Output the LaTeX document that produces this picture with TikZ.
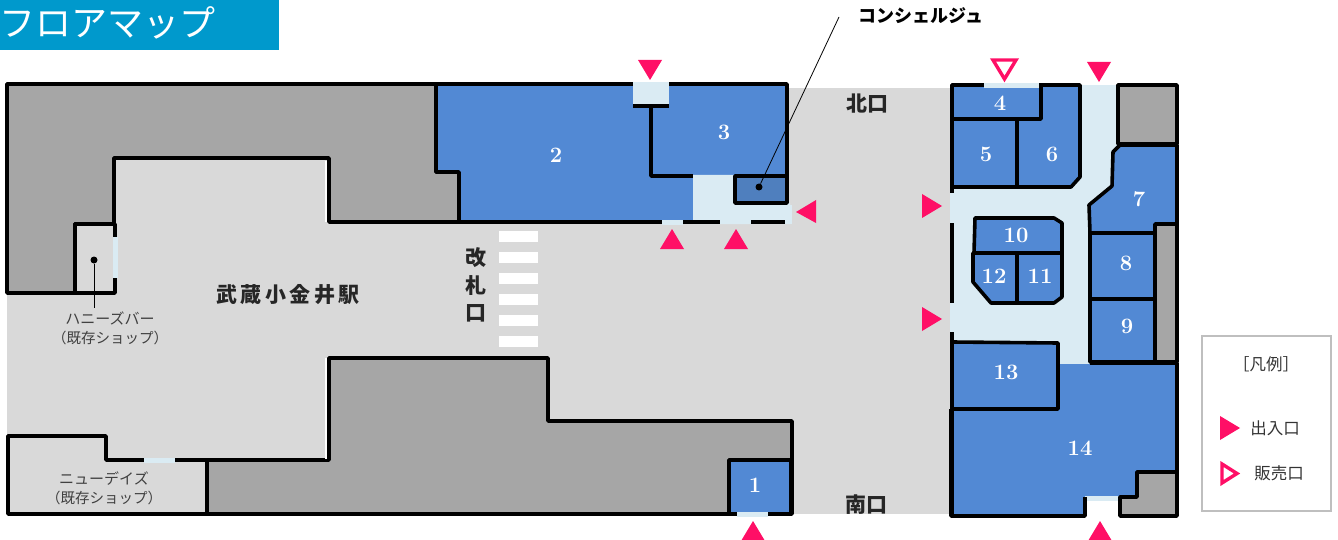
\documentclass[tikz,border=0pt]{standalone}
\usepackage{fontspec}
\newfontfamily\jpfont{Noto Sans CJK JP}
\definecolor{shopblue}{HTML}{5289D4}
\definecolor{deskblue}{HTML}{4F7FBE}
\definecolor{pathblue}{HTML}{DAEBF3}
\definecolor{darkfloor}{HTML}{A6A6A6}
\definecolor{lightfloor}{HTML}{D9D9D9}
\definecolor{markpink}{HTML}{FF0F66}
\definecolor{titleblue}{HTML}{0099CC}
\tikzstyle{wall} = [draw=black,line width=3.6pt,line join=round]
\tikzstyle{shop} = [wall,fill=shopblue]
\tikzstyle{closed} = [wall,fill=darkfloor]
\tikzstyle{door} = [draw=pathblue,line width=5pt]
\tikzstyle{entry} = [fill=markpink]
\tikzstyle{sales} = [draw=markpink,line width=3.4pt,fill=white,line join=miter]
\tikzstyle{shopnum} = [text=white,font=\bfseries\fontsize{22}{22}\selectfont]
\tikzstyle{place} = [font=\jpfont\bfseries\fontsize{21}{21}\selectfont,text=black!85]
\tikzstyle{note} = [font=\jpfont\fontsize{15}{19}\selectfont,text=black!75,align=center]
\tikzstyle{legend} = [font=\jpfont\fontsize{16.5}{16.5}\selectfont,text=black!80]

\begin{document}
\begin{tikzpicture}[x=1pt,y=-1pt]
\useasboundingbox (0,0) rectangle (1338,540);
% title
\fill[titleblue] (0,0) rectangle (279,50);
\node[text=white,font=\jpfont\fontsize{36}{36}\selectfont,anchor=west,inner sep=0pt] (title) at (-1,23) {フロアマップ};
% floor
\fill[lightfloor] (7,88) rectangle (950,514);
\fill[pathblue] (950,85) rectangle (1118,365);
% closed areas, left side
\draw[closed] (7,84) -- (436,84) -- (436,172) -- (459,172) -- (459,222) -- (329,222) -- (329,158) -- (114,158) -- (114,224) -- (75,224) -- (75,293) -- (7,293) -- cycle;
\draw[closed] (329,358) -- (548,358) -- (548,421) -- (792,421) -- (792,514) -- (207,514) -- (207,460) -- (329,460) -- cycle;
\draw[white,line width=1.5pt] (326,161) -- (326,222) (326,358) -- (326,459);
% existing shops
\draw[wall,fill=lightfloor] (75,224) -- (115,224) -- (115,293) -- (75,293) -- cycle;
\draw[wall,fill=lightfloor] (8,436) -- (106,436) -- (106,460) -- (207,460) -- (207,514) -- (8,514) -- cycle;
\draw[door] (115,237) -- (115,278);
\draw[door] (144,460) -- (175,460);
% shops 1-3
\draw[shop] (729,460) -- (791,460) -- (791,514) -- (729,514) -- cycle;
\draw[shop] (436,84) -- (787,84) -- (787,222) -- (459,222) -- (459,172) -- (436,172) -- cycle;
\fill[pathblue] (693,175) -- (735,175) -- (735,203) -- (790,203) -- (790,224) -- (693,224) -- cycle;
\fill[pathblue] (633,82) rectangle (669,105);
\draw[wall,fill=deskblue] (735,176) rectangle (787,203);
\draw[wall] (633,106) -- (669,106) (651,106) -- (651,176) -- (693,176);
\draw[door] (789,205) -- (789,224);
\draw[door] (662,222) -- (683,222);
\draw[wall] (683,222) -- (720,222) (751,222) -- (785,222);
\draw[door] (737,514) -- (768,514);
% shops 4-12
\draw[closed] (1118,85) rectangle (1177,144);
\draw[closed] (1155,224) rectangle (1177,362);
\draw[shop] (952,85) -- (1041,85) -- (1041,119) -- (952,119) -- cycle;
\draw[door] (984,86) -- (1039,86);
\draw[shop] (952,119) rectangle (1017,187);
\draw[shop] (1017,187) -- (1017,119) -- (1041,119) -- (1041,85) -- (1080,85) -- (1080,177) -- (1071,187) -- cycle;
\draw[shop] (1120,145) -- (1177,145) -- (1177,224) -- (1155,224) -- (1155,233) -- (1090,233) -- (1089,205) -- (1112,186) -- (1113,152) -- cycle;
\draw[shop] (1090,233) rectangle (1155,299);
\draw[shop] (1090,299) rectangle (1155,362);
\draw[shop] (975,218) -- (1054,218) -- (1062,223) -- (1062,253) -- (974,253) -- cycle;
\draw[shop] (973,253) -- (1017,253) -- (1017,303) -- (991,303) -- (973,282) -- cycle;
\draw[shop] (1017,253) -- (1062,253) -- (1062,297) -- (1054,303) -- (1017,303) -- cycle;
% shops 13, 14
\fill[shopblue] (1059,364) -- (1177,364) -- (1177,472) -- (1137,472) -- (1137,497) -- (1085,497) -- (1085,516) -- (951,516) -- (951,409) -- (1059,409) -- cycle;
\fill[pathblue] (1085,496) rectangle (1120,501);
\draw[closed] (1137,472) -- (1177,472) -- (1177,516) -- (1120,516) -- (1120,497) -- (1137,497) -- cycle;
\draw[wall] (1090,363) -- (1177,363) -- (1177,472);
\draw[wall] (1085,497) -- (1085,516) -- (951,516) -- (951,409);
\draw[shop] (952,342) -- (1058,343) -- (1058,409) -- (952,409) -- cycle;
% front wall of the right block
\draw[wall] (952,85) -- (952,193) (952,223) -- (952,303) (952,332) -- (952,516);
% crossing
\foreach \y in {231,252,...,336} {
	\fill[white] (499,\y) rectangle (538,\y+11);
}
% entrances
\foreach \x/\y in {650/60,1099/62} {
	\fill[entry] (\x-12,\y) -- (\x+12,\y) -- (\x,\y+20) -- cycle;
}
\foreach \x/\y in {672/249,736/249,753/541,1100/541} {
	\fill[entry] (\x-12,\y) -- (\x+12,\y) -- (\x,\y-20) -- cycle;
}
\foreach \x/\y in {922/206,922/319,1220/428} {
	\fill[entry] (\x,\y-12) -- (\x,\y+12) -- (\x+20,\y) -- cycle;
}
\fill[entry] (816,200) -- (816,223) -- (796,212) -- cycle;
\draw[sales] (993,60) -- (1016,60) -- (1004.5,79) -- cycle;
\draw[sales] (1222,464) -- (1222,483) -- (1237,473.5) -- cycle;
% shop numbers
\foreach \n/\x/\y in {1/755/485,2/556/155,3/724/132,4/1000/103,5/986/154,6/1052/154,7/1139/199,8/1126/263,9/1127/326,10/1016/235,11/1040/276,12/994/276,13/1006/372,14/1080/448} {
	\node[shopnum] (shop\n) at (\x,\y) {\n};
}
% names
\node[place] (station) at (288,295) {武\,蔵\,小\,金\,井\,駅};
\node[place] (gate1) at (476,258) {改};
\node[place] (gate2) at (476,286) {札};
\node[place] (gate3) at (476,313) {口};
\node[place] (north) at (867,104) {北口};
\node[place] (south) at (866,505) {南口};
\node[note] (honeys) at (110,328) {ハニーズバー\\{\fontsize{14.5}{19}\selectfont（既存ショップ）}};
\node[note] (newdays) at (104,488) {ニューデイズ\\{\fontsize{14.5}{19}\selectfont（既存ショップ）}};
\node[font=\jpfont\bfseries\fontsize{18}{18}\selectfont] (concierge) at (921,16) {コンシェルジュ};
% leaders
\node[circle,fill=black,inner sep=0pt,minimum size=7pt] (honeysdot) at (94,260) {};
\node[circle,fill=black,inner sep=0pt,minimum size=7pt] (deskdot) at (759,187) {};
\coordinate (honeysend) at (94,308);
\coordinate (deskend) at (839,17);
\draw[line width=0.8pt] (honeysdot) -- (honeysend);
\draw[line width=0.8pt] (deskdot) -- (deskend);
% legend
\draw[draw=black!25,line width=2.5pt] (1202,336) rectangle (1331,511);
\node[legend] (legendhead) at (1266,364) {［凡例］};
\node[legend] (legendin) at (1275,428) {出入口};
\node[legend] (legendsale) at (1279,473) {販売口};
\end{tikzpicture}
\end{document}
